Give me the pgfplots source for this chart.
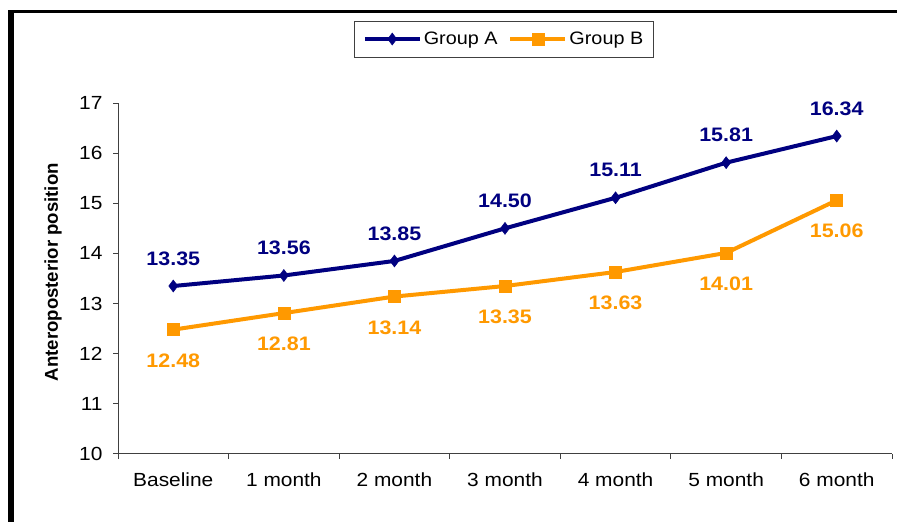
\documentclass[border=0pt]{standalone}
\usepackage{fontspec}
\setmainfont{Liberation Sans}[FakeStretch=1.1]
\newfontfamily\ylabfont{Liberation Sans}
\usepackage{pgfplots}
\pgfplotsset{compat=1.18}

\definecolor{groupA}{RGB}{0,0,128}
\definecolor{groupB}{RGB}{255,153,0}
\definecolor{axisgray}{RGB}{64,64,64}

\newcommand{\tickfont}{\fontsize{19}{22}\selectfont}
\newcommand{\valfont}{\fontsize{19.5}{22}\selectfont\bfseries}
\newcommand{\legfont}{\fontsize{18}{21}\selectfont}

\begin{document}
\begin{tikzpicture}[x=1pt,y=1pt]
\useasboundingbox (0,0) rectangle (897,522);
\fill[white] (0,0) rectangle (897,522);
% outer frame (left and top edges)
\draw[line width=5.5pt] (11.2,0) -- (11.2,512.2);
\draw[line width=3pt] (8.4,510.7) -- (897,510.7);

\begin{axis}[
  at={(118pt,68pt)}, anchor=south west,
  scale only axis, width=774pt, height=351pt,
  xmin=-0.5, xmax=6.5, ymin=10, ymax=17,
  axis x line*=bottom, axis y line*=left,
  axis line style={-, line width=1pt, draw=axisgray},
  xtick={0,...,6},
  xticklabels={Baseline,1 month,2 month,3 month,4 month,5 month,6 month},
  minor xtick={-0.5,0.5,...,6.5},
  major x tick style={draw=none},
  ytick={10,...,17},
  tick align=outside,
  major tick length=5pt, minor tick length=5pt,
  tick style={line width=1pt, draw=axisgray},
  tick label style={font=\tickfont, text=black},
  xticklabel style={yshift=-10pt},
  /pgf/number format/assume math mode=true,
  /pgf/number format/.cd, fixed, fixed zerofill, precision=2,
  /pgfplots/.cd,
  yticklabel style={xshift=-7pt, /pgf/number format/precision=0, /pgf/number format/fixed zerofill=false},
  ylabel={\ylabfont\fontsize{18.6}{22}\selectfont\bfseries Anteroposterior position},
  ylabel style={at={(axis description cs:-0.084,0.518)}, anchor=center},
  legend columns=2,
  legend style={at={(0.4987,1.1823)}, anchor=center, draw=axisgray, line width=0.8pt,
    font=\legfont, inner xsep=8pt, inner ysep=9pt,
    /tikz/every even column/.append style={column sep=9pt}},
  legend image code/.code={%
    \draw[#1, mark repeat=2, mark phase=2] plot coordinates {(0pt,0pt) (27.5pt,0pt) (55pt,0pt)};},
  nodes near coords,
  every node near coord/.append style={font=\valfont, anchor=center},
]
\addplot[color=groupA, line width=4pt, mark=diamond*, mark size=6pt,
  mark options={line width=0.5pt},
  nodes near coords style={text=groupA, yshift=27.6pt}]
  coordinates {(0,13.35) (1,13.56) (2,13.85) (3,14.50) (4,15.11) (5,15.81) (6,16.34)};
\addlegendentry{Group A}
\addplot[color=groupB, line width=4pt, mark=square*, mark size=6pt,
  mark options={line width=0.5pt},
  nodes near coords style={text=groupB, yshift=-31pt}]
  coordinates {(0,12.48) (1,12.81) (2,13.14) (3,13.35) (4,13.63) (5,14.01) (6,15.06)};
\addlegendentry{Group B}
\end{axis}
\end{tikzpicture}
\end{document}
